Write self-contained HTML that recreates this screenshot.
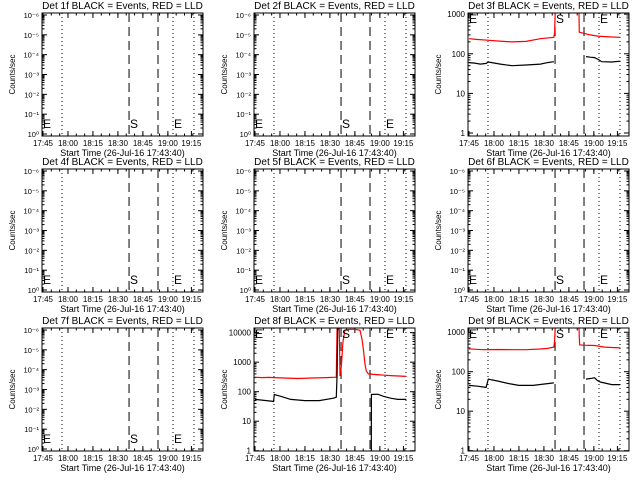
<!DOCTYPE html>
<html><head><meta charset="utf-8"><style>
html,body{margin:0;padding:0;background:#fff;}
svg{display:block;font-family:"Liberation Sans",sans-serif;}
</style></head><body>
<svg id="c" width="640" height="480" viewBox="0 0 640 480"></svg>
<script>
// ---- data (axis minutes) ----
const tickLabels = ["17:45","18:00","18:15","18:30","18:45","19:00","19:15"];
const tickMinutes = [0,17.5,35,52.5,70,87.5,104];
const dottedLines = [13.3,91.1,105.8];
const dashedLines = [60.3,80.6];
const emptyYLabels = ["10\u207B\u2076","10\u207B\u2075","10\u207B\u2074","10\u207B\u00B3","10\u207B\u00B2","10\u207B\u00B9","10\u2070"];

const p3RedT = [0,5,13,20,30,40,50,59.5,60,60.5,77,77.3,80,85,90,100,106];
const p3RedV = [240,230,220,210,200,205,240,260,340,1500,1500,350,330,300,280,265,260];
const p3BlackT = [0,4,8,12,13.5,16,22,30,40,50,55,59.5,null,82,85,88,91,93,100,106];
const p3BlackV = [60,58,55,57,62,60,55,50,52,55,60,63,null,85,82,80,70,63,62,65];

const p8RedT = [0,5,10,13,20,30,40,50,57,57.5,59,59.6,60.5,61.7,63,66,70,73.6,75,76,77,78,79.5,85,95,106];
const p8RedV = [310,300,305,300,290,280,290,300,310,20000,20000,340,700,5000,12000,13000,13000,12000,6000,2500,900,500,400,380,350,330];
const p8BlackT = [0,8,13,13.5,18,25,35,45,55,57,57.5,58,null,81.5,81.6,86,90,95,100,106];
const p8BlackV = [55,50,47,80,70,55,50,50,60,65,400,20000,null,0.5,80,82,70,60,55,55];

const p9RedT = [0,5,10,20,30,40,50,55,59.5,60,60.5,77,77.5,80,88,95,100,106];
const p9RedV = [380,370,360,365,360,360,375,390,420,600,1500,1500,480,470,460,420,410,400];
const p9BlackT = [0,6,12,13.5,16,20,28,35,45,55,59.5,null,82,86,88,90,92,100,106];
const p9BlackV = [45,43,40,65,62,58,50,45,45,50,52,null,65,68,70,60,55,47,47];

// ---- layout ----
const NS="http://www.w3.org/2000/svg";
const svg=document.getElementById('c');
const lefts=[42,254,468], tops=[13,169,328], W=161, H=123;
function mk(tag,attrs,parent){const e=document.createElementNS(NS,tag);for(const k in attrs)e.setAttribute(k,attrs[k]);(parent||svg).appendChild(e);return e;}
function xOf(px,t){return px+1+t*1.427;}

const panels=[
 {n:1},{n:2},{n:3,lo:0.84,hi:1070,red:[p3RedT,p3RedV],black:[p3BlackT,p3BlackV],dec:[1,10,100,1000]},
 {n:4},{n:5},{n:6},
 {n:7},{n:8,lo:0.98,hi:14350,red:[p8RedT,p8RedV],black:[p8BlackT,p8BlackV],dec:[1,10,100,1000,10000]},
 {n:9,lo:0.98,hi:1280,red:[p9RedT,p9RedV],black:[p9BlackT,p9BlackV],dec:[1,10,100,1000]}
];

panels.forEach((p,i)=>{
 const px=lefts[i%3], py=tops[Math.floor(i/3)];
 const g=mk('g',{});
 
 
 const t=mk('text',{x:px+W/2,y:py-4,'text-anchor':'middle','font-size':'10'},g);
 t.textContent='Det '+p.n+'f BLACK = Events, RED = LLD';
 
 
 const yt=mk('text',{x:0,y:0,'text-anchor':'middle','font-size':'8',transform:'translate('+(px-27)+','+(py+H/2)+') rotate(-90)'},g);
 yt.textContent='Counts/sec';
 
 
 const xt=mk('text',{x:px+W/2,y:py+H+20,'text-anchor':'middle','font-size':'9'},g);
 xt.textContent='Start Time (26-Jul-16 17:43:40)';
 
 
 // x ticks
 tickMinutes.forEach((m,k)=>{
  const x=xOf(px,m);
  mk('line',{x1:x,x2:x,y1:py+H,y2:py+H-5,stroke:'#000'},g);
  mk('line',{x1:x,x2:x,y1:py,y2:py+5,stroke:'#000'},g);
  const l=mk('text',{x:x,y:py+H+10,'text-anchor':'middle','font-size':'8'},g);
  l.textContent=tickLabels[k];
  
  
 });
 for(let m=0;m<=110;m+=17.5/3){const x=xOf(px,m);if(x>px+W)break;
  mk('line',{x1:x,x2:x,y1:py+H,y2:py+H-2.5,stroke:'#000'},g);mk('line',{x1:x,x2:x,y1:py,y2:py+2.5,stroke:'#000'},g);}
 // vertical markers
 dottedLines.forEach(m=>{const x=xOf(px,m);mk('line',{x1:x,x2:x,y1:py,y2:py+H,stroke:'#000','stroke-dasharray':'1,3'},g);});
 dashedLines.forEach(m=>{const x=xOf(px,m);mk('line',{x1:x,x2:x,y1:py,y2:py+H,stroke:'#000','stroke-dasharray':'9,5'},g);});
 if(!p.red){
  emptyYLabels.forEach((s,k)=>{
   const y=py+2+k*(H-4)/6;
   const l=mk('text',{x:px-3,y:y+3,'text-anchor':'end','font-size':'7.5'},g);
   l.textContent=s;
   
   
   mk('line',{x1:px,x2:px+5,y1:y,y2:y,stroke:'#000'},g);
   mk('line',{x1:px+W,x2:px+W-5,y1:y,y2:y,stroke:'#000'},g);
   if(k<6)for(let j=1;j<9;j++){const yy=y+(H-4)/6*(1-Math.log10(10-j));
    mk('line',{x1:px,x2:px+2.5,y1:yy,y2:yy,stroke:'#000'},g);mk('line',{x1:px+W,x2:px+W-2.5,y1:yy,y2:yy,stroke:'#000'},g);}
  });
  [[0,'E'],[87,'S'],[131,'E']].forEach(([dx,s])=>{const l=mk('text',{x:px+1+dx,y:py+H-8,'font-size':'12'},g);l.textContent=s;
   });
 } else {
  const L0=Math.log10(p.lo),L1=Math.log10(p.hi);
  const yOf=v=>py+H-(Math.log10(v)-L0)/(L1-L0)*H;
  p.dec.forEach(v=>{const y=yOf(v);
   const l=mk('text',{x:px-3,y:y+3,'text-anchor':'end','font-size':'8'},g);l.textContent=String(v);
   
   mk('line',{x1:px,x2:px+5,y1:y,y2:y,stroke:'#000'},g);mk('line',{x1:px+W,x2:px+W-5,y1:y,y2:y,stroke:'#000'},g);
   for(let j=2;j<10;j++){const yy=yOf(v*j);if(yy<py)break;
    mk('line',{x1:px,x2:px+2.5,y1:yy,y2:yy,stroke:'#000'},g);mk('line',{x1:px+W,x2:px+W-2.5,y1:yy,y2:yy,stroke:'#000'},g);}
  });
  const cid='clip'+p.n;
  const cp=mk('clipPath',{id:cid},g);mk('rect',{x:px,y:py,width:W,height:H},cp);
  const draw=(T,V,color,name)=>{let segs=[],cur=[];
   T.forEach((tt,k)=>{if(tt===null){if(cur.length)segs.push(cur);cur=[];}else cur.push(xOf(px,tt).toFixed(1)+','+yOf(V[k]).toFixed(1));});
   if(cur.length)segs.push(cur);
   segs.forEach(s=>{const pl=mk('polyline',{points:s.join(' '),fill:'none',stroke:color,'stroke-width':'1.2','clip-path':'url(#'+cid+')'},g);
    });};
  draw(p.red[0],p.red[1],'#ff0000','lld-series');
  draw(p.black[0],p.black[1],'#000','events-series');
  [[0,'E'],[87,'S'],[131,'E']].forEach(([dx,s])=>{const l=mk('text',{x:px+1+dx,y:py+10,'font-size':'12'},g);l.textContent=s;
   });
 }
 const r=mk('rect',{x:px,y:py,width:W,height:H,fill:'none',stroke:'#000','stroke-width':'1'},g);
 
 
});
</script>
</body></html>
